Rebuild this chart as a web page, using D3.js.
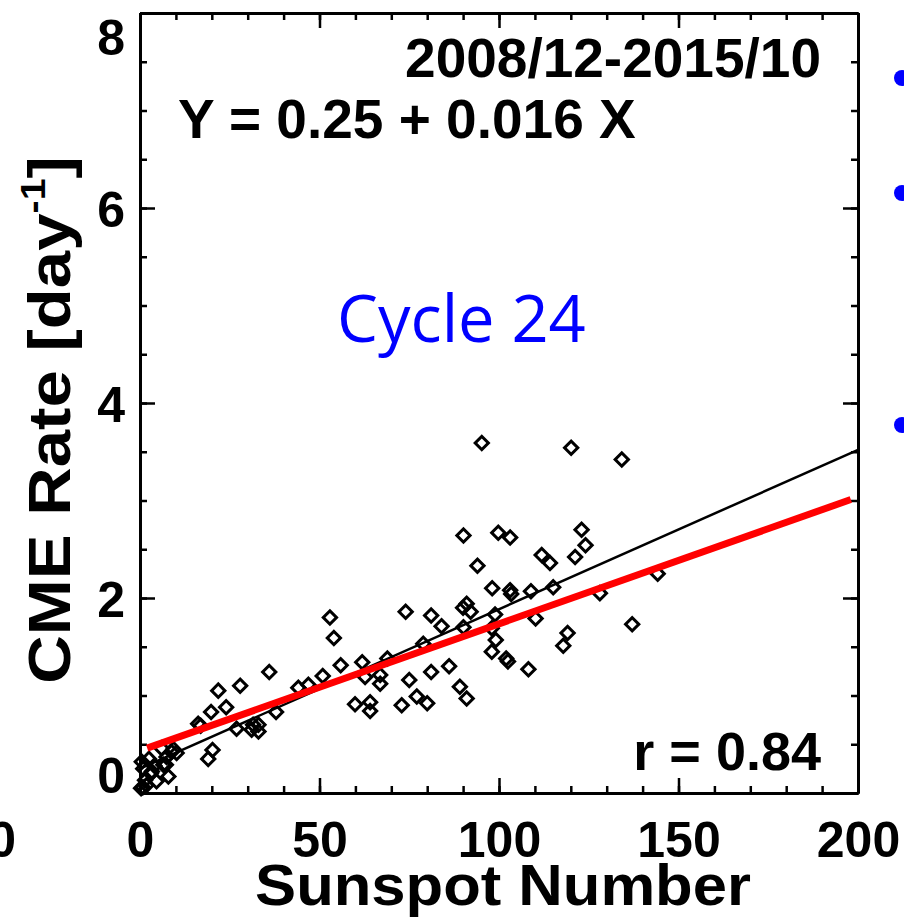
<!DOCTYPE html>
<html><head><meta charset="utf-8">
<script src="https://cdn.jsdelivr.net/npm/d3@7"></script>
<style>body{margin:0;background:#fff;} svg{display:block;}</style>
</head><body>
<svg id="c" width="904" height="920"></svg>
<script>
// ---- data ----
const sunspot = [0.5,0.9,1.4,0.8,3.0,4.6,7.9,7.2,6.0,7.4,8.8,10.2,9.3,3.3,6.5,0.3,1.8,4.0,2.5,
  19.0,20.2,16.2,16.9,19.8,24.0,21.8,27.9,26.9,31.1,33.0,31.5,33.0,36.0,37.9,
  44.1,46.9,50.9,52.9,54.0,55.9,59.9,61.9,62.7,64.1,64.1,66.9,66.9,68.9,72.9,
  74.0,75.0,77.1,78.9,80.0,81.1,81.1,84.0,86.1,89.1,91.0,90.0,91.0,92.1,90.1,
  90.1,94.0,95.2,98.1,98.9,98.0,99.1,98.0,102.0,102.5,99.8,103.1,103.1,103.4,108.2,
  108.9,110.2,111.9,114.2,115.1,117.9,119.1,120.1,121.2,123.0,124.1,128.1,134.2,137.1,144.2];
const cmeRate = [0.32,0.25,0.13,0.06,0.20,0.12,0.17,0.29,0.46,0.37,0.42,0.41,0.45,0.22,0.29,0.05,0.08,0.28,0.35,
  0.35,0.44,0.71,0.69,0.83,0.88,1.05,1.10,0.66,0.65,0.63,0.70,0.70,1.24,0.83,
  1.08,1.11,1.20,1.80,1.59,1.31,0.91,1.34,1.19,0.93,0.84,1.21,1.12,1.38,0.90,
  1.86,1.16,0.99,1.53,0.92,1.24,1.82,1.71,1.30,1.09,0.97,1.90,1.94,1.86,1.70,
  2.64,2.33,3.59,2.10,1.83,1.69,1.57,1.45,1.38,1.35,2.67,2.62,2.08,2.04,1.27,
  2.07,1.79,2.44,2.36,2.11,1.51,1.64,3.54,2.42,2.70,2.54,2.05,3.42,1.73,2.25];
const xMajorTicks = [0,50,100,150,200];
const xMinorTicks = d3.range(0,201,10);
const yMajorTicks = [0,2,4,6,8];
const yMinorTicks = d3.range(0,8.01,0.5);
const blackFitX = [0,200];            // Y = 0.25 + 0.016 X
const blackFitY = [0.25,3.52];
const redFitX = [2,198];
const redFitY = [0.46,3.01];
const titleText = "2008/12-2015/10";
const eqText = "Y = 0.25 + 0.016 X";
const rText = "r = 0.84";
const cycleText = "Cycle 24";
const bulletRows = [78,193,425];

// ---- drawing ----
const svg = d3.select("#c");
const FONT = "'Liberation Sans', Arial, Helvetica, sans-serif";
const L=140,R=858,T=13,B=793;
const x = d3.scaleLinear().domain([0,200]).range([L,R]);
const y = d3.scaleLinear().domain([0,8]).range([B,T]);

function styleAxis(g){
  g.selectAll("path.domain").attr("stroke","#000").attr("stroke-width",3);
  g.selectAll(".tick line").attr("stroke","#000").attr("stroke-width",2.5);
}
// minor ticks
svg.append("g").attr("transform",`translate(0,${B})`)
  .call(d3.axisBottom(x).tickValues(xMinorTicks).tickSize(-7).tickSizeOuter(0).tickFormat(""))
  .call(styleAxis);
svg.append("g").attr("transform",`translate(0,${T})`)
  .call(d3.axisTop(x).tickValues(xMinorTicks).tickSize(-7).tickSizeOuter(0).tickFormat(""))
  .call(styleAxis);
svg.append("g").attr("transform",`translate(${L},0)`)
  .call(d3.axisLeft(y).tickValues(yMinorTicks).tickSize(-7).tickSizeOuter(0).tickFormat(""))
  .call(styleAxis);
svg.append("g").attr("transform",`translate(${R},0)`)
  .call(d3.axisRight(y).tickValues(yMinorTicks).tickSize(-7).tickSizeOuter(0).tickFormat(""))
  .call(styleAxis);
// major ticks with labels
const gx = svg.append("g").attr("transform",`translate(0,${B})`)
  .call(d3.axisBottom(x).tickValues(xMajorTicks).tickSize(-15).tickSizeOuter(0).tickPadding(28).tickFormat(d3.format("d")))
  .call(styleAxis);
gx.selectAll("text").attr("font-family",FONT).attr("font-weight","bold").attr("font-size",50).attr("fill","#000");
svg.append("g").attr("transform",`translate(0,${T})`)
  .call(d3.axisTop(x).tickValues(xMajorTicks).tickSize(-15).tickSizeOuter(0).tickFormat(""))
  .call(styleAxis);
const gy = svg.append("g").attr("transform",`translate(${L},0)`)
  .call(d3.axisLeft(y).tickValues(yMajorTicks).tickSize(-15).tickSizeOuter(0).tickPadding(15).tickFormat(d3.format("d")))
  .call(styleAxis);
gy.selectAll("text").attr("font-family",FONT).attr("font-weight","bold").attr("font-size",50).attr("fill","#000")
  .attr("dy", d => d===8 ? "0.82em" : (d===0 ? "-0.02em" : "0.36em"));
svg.append("g").attr("transform",`translate(${R},0)`)
  .call(d3.axisRight(y).tickValues(yMajorTicks).tickSize(-15).tickSizeOuter(0).tickFormat(""))
  .call(styleAxis);

// fit lines
const line = d3.line().x(d=>x(d[0])).y(d=>y(d[1]));
svg.append("path").datum(blackFitX.map((v,i)=>[v,blackFitY[i]]))
  .attr("d",line).attr("stroke","#000").attr("stroke-width",2.5).attr("fill","none");

// points
const diamond = d3.symbol().type(d3.symbolSquare).size(88);
svg.append("g").selectAll("path").data(sunspot.map((s,i)=>[s,cmeRate[i]])).join("path")
  .attr("d",diamond)
  .attr("transform",d=>`translate(${x(d[0])},${y(d[1])}) rotate(45)`)
  .attr("fill","none").attr("stroke","#000").attr("stroke-width",3);

svg.append("path").datum(redFitX.map((v,i)=>[v,redFitY[i]]))
  .attr("d",line).attr("stroke","#ff0000").attr("stroke-width",7).attr("fill","none");

// texts
svg.append("text").attr("x",821).attr("y",77).attr("text-anchor","end")
  .attr("font-family",FONT).attr("font-weight","bold").attr("font-size",55).text(titleText);
svg.append("text").attr("x",178).attr("y",138)
  .attr("font-family",FONT).attr("font-weight","bold").attr("font-size",55).text(eqText);
svg.append("text").attr("x",821).attr("y",770).attr("text-anchor","end")
  .attr("font-family",FONT).attr("font-weight","bold").attr("font-size",54).text(rText);
svg.append("text").attr("x",337).attr("y",342)
  .attr("font-family","'Open Sans', 'Noto Sans', sans-serif").attr("font-size",65).attr("fill","#0000ff").text(cycleText);

// axis titles
svg.append("text").attr("transform",`translate(${(L+R)/2 + 4},905) scale(1.08,1)`).attr("text-anchor","middle")
  .attr("font-family",FONT).attr("font-weight","bold").attr("font-size",57).text("Sunspot Number");
const yl = svg.append("text").attr("transform",`translate(70,420) rotate(-90) scale(1.12,1)`).attr("text-anchor","middle")
  .attr("font-family",FONT).attr("font-weight","bold").attr("font-size",60);
yl.append("tspan").text("CME Rate [day");
yl.append("tspan").attr("font-size",35).attr("dy",-25).text("-1");
yl.append("tspan").attr("dy",25).text("]");

// neighbour-panel fragment and bullets
svg.append("text").attr("x",16).attr("y",857).attr("text-anchor","end")
  .attr("font-family",FONT).attr("font-weight","bold").attr("font-size",50).text("200");
svg.append("g").selectAll("circle").data(bulletRows).join("circle")
  .attr("cx",902).attr("cy",d=>d).attr("r",8).attr("fill","#0000ff");
</script>
</body></html>
